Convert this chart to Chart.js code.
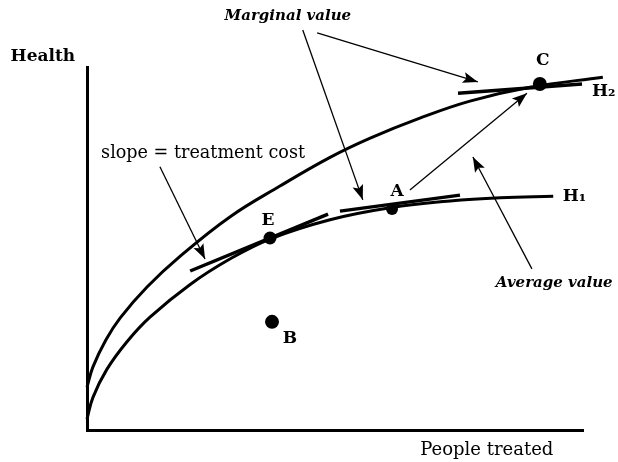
<!DOCTYPE html>
<html>
<head>
<meta charset="utf-8">
<script src="https://cdn.jsdelivr.net/npm/chart.js@4"></script>
<style>
    body { margin: 0; background: #fff; }
    #wrap { width: 618px; height: 462px; }
</style>
</head>
<body>
<div id="wrap"><canvas id="health_chart" width="618" height="462"></canvas></div>
<script>
// people treated (x) and health (y), arbitrary units 0..100
var h2X = [0, 1.2, 3.8, 6.7, 12.1, 18.8, 28.8, 38.9, 49.0, 57.1, 67.1, 77.2, 89.3, 104.0];
var h2Y = [11.8, 17.4, 24.8, 30.9, 39.4, 47.9, 58.7, 67.2, 75.1, 80.4, 85.9, 90.6, 94.4, 97.2];
var h1X = [0, 1.2, 4.0, 8.1, 12.7, 20.8, 28.8, 36.9, 49.0, 61.1, 73.2, 83.3, 94.0];
var h1Y = [3.0, 9.0, 16.7, 24.4, 31.1, 40.1, 47.1, 52.6, 57.9, 61.2, 63.1, 64.0, 64.4];

// labelled points E, A, C, B
var pointNames = ['E', 'A', 'C', 'B'];
var pointX = [36.9, 61.5, 91.3, 37.3];
var pointY = [52.9, 60.9, 95.3, 29.8];

// tangent segments at E, A, C  [x0, y0, x1, y1]
var tangentE = [20.8, 43.8, 48.6, 59.5];
var tangentA = [51.0, 60.3, 75.2, 64.7];
var tangentC = [74.8, 92.8, 99.8, 95.3];

// arrows [fromX, fromY, toX, toY]
var arrowMarginal1 = [43.5, 110.2, 55.6, 63.4];
var arrowMarginal2 = [46.4, 109.4, 78.8, 95.9];
var arrowSlope = [14.7, 72.5, 23.8, 47.1];
var arrowAC = [65.1, 66.1, 88.7, 92.8];
var arrowAverage = [89.7, 44.4, 77.8, 75.2];

function toPoints(xs, ys) {
    return xs.map(function (x, i) { return { x: x, y: ys[i] }; });
}

function segment(s) {
    return [{ x: s[0], y: s[1] }, { x: s[2], y: s[3] }];
}

function lineSet(data, width, extra) {
    var ds = {
        data: data,
        showLine: true,
        borderColor: '#000',
        backgroundColor: '#000',
        borderWidth: width,
        pointRadius: 0,
        clip: false
    };
    return Object.assign(ds, extra || {});
}

// text placed in data units
var SERIF = '"DejaVu Serif", "Liberation Serif", serif';
var texts = [
    { t: 'Health', x: -8.9, y: 102.8, font: 'bold 17px ' + SERIF },
    { t: 'People treated', x: 80.6, y: -5.5, font: '18px ' + SERIF },
    { t: 'slope = treatment cost', x: 23.4, y: 76.3, font: '17.6px ' + SERIF },
    { t: 'Marginal value', x: 40.5, y: 114.0, font: 'italic bold 15px ' + SERIF },
    { t: 'Average value', x: 94.2, y: 40.5, font: 'italic bold 15px ' + SERIF },
    { t: 'C', x: 91.9, y: 101.7, font: 'bold 17px ' + SERIF },
    { t: 'A', x: 62.5, y: 65.8, font: 'bold 17px ' + SERIF },
    { t: 'E', x: 36.5, y: 57.6, font: 'bold 17px ' + SERIF },
    { t: 'B', x: 40.9, y: 25.1, font: 'bold 17px ' + SERIF },
    { t: 'H\u2081', x: 95.9, y: 64.2, font: 'bold 17px ' + SERIF, align: 'left' },
    { t: 'H\u2082', x: 101.8, y: 93.1, font: 'bold 17px ' + SERIF, align: 'left' }
];

var textPlugin = {
    id: 'texts',
    afterDatasetsDraw: function (chart) {
        var ctx = chart.ctx;
        var sx = chart.scales.x, sy = chart.scales.y;
        ctx.save();
        ctx.fillStyle = '#000';
        ctx.textBaseline = 'middle';
        texts.forEach(function (l) {
            ctx.font = l.font;
            ctx.textAlign = l.align || 'center';
            ctx.fillText(l.t, sx.getPixelForValue(l.x), sy.getPixelForValue(l.y));
        });
        ctx.restore();
    }
};

// filled arrowhead at the last point of datasets flagged with arrow: true
var arrowPlugin = {
    id: 'arrowheads',
    afterDatasetsDraw: function (chart) {
        var ctx = chart.ctx;
        chart.data.datasets.forEach(function (ds, i) {
            if (!ds.arrow) return;
            var pts = chart.getDatasetMeta(i).data;
            var a = pts[pts.length - 2], b = pts[pts.length - 1];
            var ang = Math.atan2(b.y - a.y, b.x - a.x);
            var len = 15, half = 5.5;
            ctx.save();
            ctx.translate(b.x, b.y);
            ctx.rotate(ang);
            ctx.beginPath();
            ctx.moveTo(0, 0);
            ctx.lineTo(-len, -half);
            ctx.lineTo(-len * 0.8, 0);
            ctx.lineTo(-len, half);
            ctx.closePath();
            ctx.fillStyle = '#000';
            ctx.fill();
            ctx.restore();
        });
    }
};

document.addEventListener('DOMContentLoaded', function () {
    var ctx = document.getElementById('health_chart').getContext('2d');
    var datasets = [
        lineSet(toPoints(h2X, h2Y), 3, { tension: 0.4 }),
        lineSet(toPoints(h1X, h1Y), 3, { tension: 0.4 }),
        lineSet(segment(tangentE), 3.5),
        lineSet(segment(tangentA), 3.5),
        lineSet(segment(tangentC), 3.5),
        lineSet(segment(arrowMarginal1), 1.3, { arrow: true }),
        lineSet(segment(arrowMarginal2), 1.3, { arrow: true }),
        lineSet(segment(arrowSlope), 1.3, { arrow: true }),
        lineSet(segment(arrowAC), 1.3, { arrow: true }),
        lineSet(segment(arrowAverage), 1.3, { arrow: true }),
        {
            data: toPoints(pointX, pointY),
            showLine: false,
            pointRadius: [6.5, 6, 7, 7],
            pointBackgroundColor: '#000',
            pointBorderColor: '#000',
            pointBorderWidth: 0,
            clip: false
        }
    ];

    var chart = new Chart(ctx, {
        type: 'scatter',
        data: { datasets: datasets },
        options: {
            responsive: false,
            animation: false,
            events: [],
            layout: { padding: { left: 87, top: 67, right: 35, bottom: 32 } },
            plugins: {
                legend: { display: false },
                tooltip: { enabled: false }
            },
            scales: {
                x: {
                    type: 'linear', min: 0, max: 100,
                    grid: { display: false, drawTicks: false },
                    ticks: { display: false },
                    border: { display: true, color: '#000', width: 3 },
                    afterFit: function (s) { s.height = 0; }
                },
                y: {
                    type: 'linear', min: 0, max: 100,
                    grid: { display: false, drawTicks: false },
                    ticks: { display: false },
                    border: { display: true, color: '#000', width: 3 },
                    afterFit: function (s) { s.width = 0; }
                }
            }
        },
        plugins: [textPlugin, arrowPlugin]
    });
});
</script>
</body>
</html>
